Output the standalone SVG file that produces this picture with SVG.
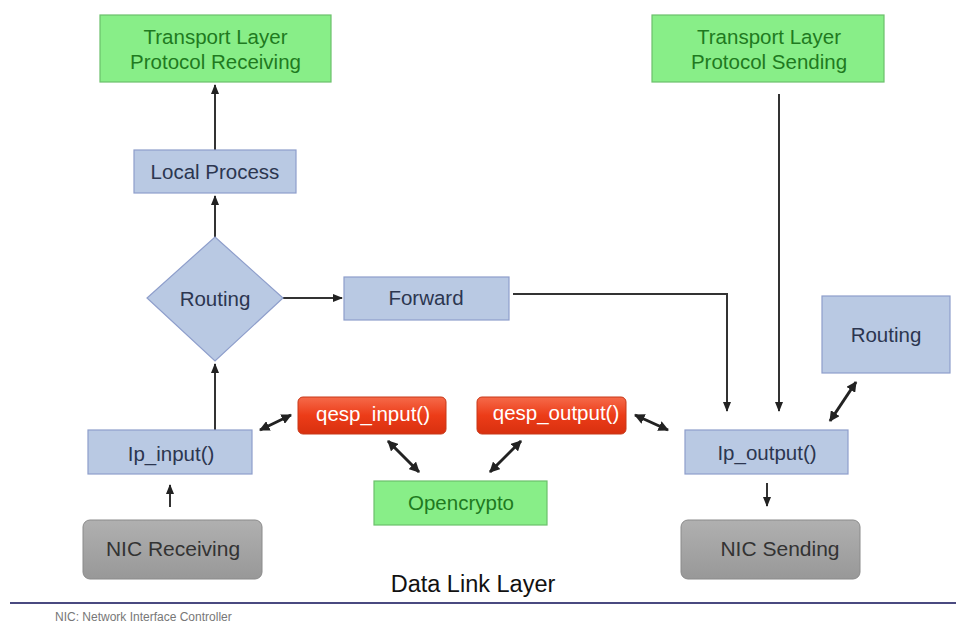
<svg xmlns="http://www.w3.org/2000/svg" width="956" height="626" viewBox="0 0 956 626">
<defs>
<marker id="ah" viewBox="0 0 10 10" refX="9" refY="5" markerWidth="5" markerHeight="5" orient="auto-start-reverse">
<path d="M0,1 L10,5 L0,9 z" fill="#222"/>
</marker>
<marker id="ah2" viewBox="0 0 10 10" refX="9" refY="5" markerWidth="3.5" markerHeight="3.5" orient="auto-start-reverse">
<path d="M0,0 L10,5 L0,10 z" fill="#222"/>
</marker>
<linearGradient id="red" x1="0" y1="0" x2="0" y2="1">
<stop offset="0" stop-color="#f56a4a"/>
<stop offset="0.5" stop-color="#ec3c18"/>
<stop offset="1" stop-color="#d8300f"/>
</linearGradient>
<linearGradient id="grey" x1="0" y1="0" x2="0" y2="1">
<stop offset="0" stop-color="#b0b0b0"/>
<stop offset="1" stop-color="#989898"/>
</linearGradient>
</defs>
<style>
text{font-family:"Liberation Sans",Arial,sans-serif;text-anchor:middle}
.g{fill:#88ee88;stroke:#6cc06c;stroke-width:1.2}
.gt{fill:#1f7a1f;font-size:20.5px}
.b{fill:#b9c9e3;stroke:#8e9ecb;stroke-width:1.2}
.bt{fill:#2c3650;font-size:20.5px}
.r{fill:url(#red);stroke:#c83818;stroke-width:1}
.rt{fill:#ffffff;font-size:20.5px}
.n{fill:url(#grey);stroke:#8a8a8a;stroke-width:1}
.nt{fill:#333333;font-size:21px}
.c{stroke:#333;stroke-width:2;fill:none}
.d{stroke:#222;stroke-width:3;fill:none}
</style>
<rect width="956" height="626" fill="#ffffff"/>
<g id="connectors">
<line class="c" x1="215" y1="150" x2="215" y2="85" marker-end="url(#ah)"/>
<line class="c" x1="215" y1="237" x2="215" y2="196" marker-end="url(#ah)"/>
<line class="c" x1="283" y1="298" x2="342" y2="298" marker-end="url(#ah)"/>
<line class="c" x1="215" y1="430" x2="215" y2="364" marker-end="url(#ah)"/>
<line class="c" x1="170" y1="507" x2="170" y2="485" marker-end="url(#ah)"/>
<polyline class="c" points="513,294 727,294 727,411" marker-end="url(#ah)"/>
<line class="c" x1="779" y1="94" x2="779" y2="411" marker-end="url(#ah)"/>
<line class="c" x1="767" y1="483" x2="767" y2="506" marker-end="url(#ah)"/>
<line class="d" x1="260" y1="430" x2="291" y2="415" marker-start="url(#ah2)" marker-end="url(#ah2)"/>
<line class="d" x1="388" y1="441" x2="419" y2="472" marker-start="url(#ah2)" marker-end="url(#ah2)"/>
<line class="d" x1="521" y1="441" x2="490" y2="472" marker-start="url(#ah2)" marker-end="url(#ah2)"/>
<line class="d" x1="635" y1="415" x2="668" y2="430" marker-start="url(#ah2)" marker-end="url(#ah2)"/>
<line class="d" x1="830" y1="421" x2="856" y2="382" marker-start="url(#ah2)" marker-end="url(#ah2)"/>
</g>
<g id="tl-recv">
<rect class="g" x="100" y="15" width="231" height="67"/>
<text class="gt" x="215.5" y="44">Transport Layer</text>
<text class="gt" x="215.5" y="69">Protocol Receiving</text>
</g>
<g id="tl-send">
<rect class="g" x="652" y="15" width="232" height="67"/>
<text class="gt" x="769" y="44">Transport Layer</text>
<text class="gt" x="769" y="69">Protocol Sending</text>
</g>
<g id="local-process">
<rect class="b" x="134" y="150" width="162" height="43"/>
<text class="bt" x="215" y="179">Local Process</text>
</g>
<g id="routing-left">
<polygon class="b" points="215,237 283,298 215,361 147,298"/>
<text class="bt" x="215" y="306">Routing</text>
</g>
<g id="forward">
<rect class="b" x="344" y="277" width="165" height="43"/>
<text class="bt" x="426" y="305">Forward</text>
</g>
<g id="routing-right">
<rect class="b" x="822" y="296" width="128" height="77"/>
<text class="bt" x="886" y="342">Routing</text>
</g>
<g id="ip-input">
<rect class="b" x="88" y="430" width="164" height="44"/>
<text class="bt" x="171" y="461">Ip_input()</text>
</g>
<g id="ip-output">
<rect class="b" x="685" y="430" width="163" height="44"/>
<text class="bt" x="767" y="460">Ip_output()</text>
</g>
<g id="qesp-input">
<rect class="r" x="298" y="397" width="148" height="37" rx="5"/>
<text class="rt" x="373" y="421">qesp_input()</text>
</g>
<g id="qesp-output">
<rect class="r" x="477" y="397" width="149" height="37" rx="5"/>
<text class="rt" x="556" y="420">qesp_output()</text>
</g>
<g id="opencrypto">
<rect class="g" x="374" y="481" width="173" height="44"/>
<text class="gt" x="461" y="510">Opencrypto</text>
</g>
<g id="nic-recv">
<rect class="n" x="83" y="520" width="179" height="59" rx="7"/>
<text class="nt" x="173" y="556">NIC Receiving</text>
</g>
<g id="nic-send">
<rect class="n" x="681" y="520" width="179" height="59" rx="7"/>
<text class="nt" x="780" y="556">NIC Sending</text>
</g>
<text x="473" y="592" style="font-size:23.5px;fill:#111">Data Link Layer</text>
<line x1="10" y1="603" x2="956" y2="603" stroke="#4a4a80" stroke-width="2"/>
<text x="55" y="621" style="font-size:12px;fill:#777;text-anchor:start">NIC: Network Interface Controller</text>
</svg>
